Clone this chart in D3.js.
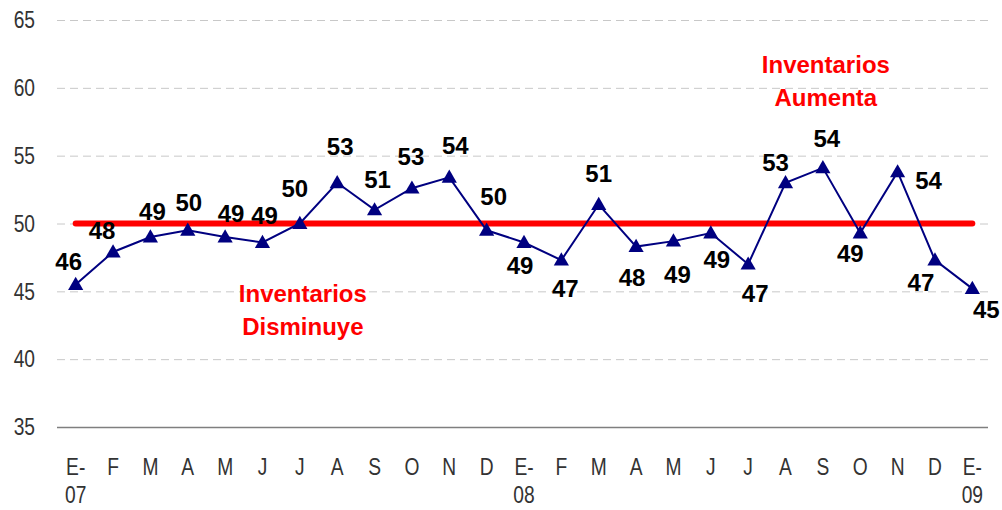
<!DOCTYPE html>
<html>
<head>
<meta charset="utf-8">
<script src="https://cdn.jsdelivr.net/npm/d3@7"></script>
<style>
  body { margin: 0; background: #fff; }
  svg { display: block; }
  .tick-label { font-family: "Liberation Sans", Arial, sans-serif; font-size: 24px; fill: #333; }
  .value-label { font-family: "Liberation Sans", Arial, sans-serif; font-weight: bold; font-size: 24px; fill: #000; }
  .note { font-family: "Liberation Sans", Arial, sans-serif; font-weight: bold; font-size: 24px; fill: #ff0000; }
</style>
</head>
<body>
<div id="chart"></div>
<script>
// months, Jan 2007 - Jan 2009
const months = ["E-07", "F", "M", "A", "M", "J", "J", "A", "S", "O", "N", "D",
                "E-08", "F", "M", "A", "M", "J", "J", "A", "S", "O", "N", "D", "E-09"];

// index values
const values = [45.5, 47.9, 49.0, 49.5, 49.0, 48.6, 50.0, 53.0, 51.0, 52.6, 53.4, 49.5,
                48.6, 47.3, 51.4, 48.3, 48.7, 49.3, 47.0, 53.0, 54.1, 49.3, 53.8, 47.3, 45.2];

// printed labels (rounded)
const valueLabels = ["46", "48", "49", "50", "49", "49", "50", "53", "51", "53", "54", "50",
                     "49", "47", "51", "48", "49", "49", "47", "53", "54", "49", "54", "47", "45"];

const yTicks = [35, 40, 45, 50, 55, 60, 65];
const threshold = 50;
const notes = [
    { lines: ["Inventarios", "Aumenta"], month: 20, value: 61.1 },
    { lines: ["Inventarios", "Disminuye"], month: 6, value: 44.2 }
];

// where each value label sits relative to its marker (dx, dy)
const labelOffsets = [
    [-7, -23], [-11, -21], [2, -26], [1, -28], [6, -24], [2, -27], [-5, -35], [3, -36],
    [3, -30], [-1, -32], [6, -32], [7, -34], [-4, 23], [4, 28], [0, -31], [-4, 31],
    [4, 33], [6, 27], [7, 29], [-10, -20], [4, -29], [-10, 21], [31, 9], [-14, 22], [14, 21]
];

const width = 1002, height = 510;
const margin = { left: 57, right: 11, top: 20, bottom: 83 };
const narrow = 0.8; // axis labels use a condensed look

const svg = d3.select("#chart")
    .append("svg")
    .attr("width", width)
    .attr("height", height);

const x = d3.scaleBand()
    .domain(d3.range(months.length))
    .range([margin.left, width - margin.right])
    .padding(0);

const y = d3.scaleLinear()
    .domain([35, 65])
    .range([height - margin.bottom, margin.top]);

const cx = i => x(i) + x.bandwidth() / 2;

// gridlines
const grid = svg.append("g")
    .attr("transform", `translate(${margin.left},0)`)
    .call(d3.axisLeft(y).tickValues(yTicks).tickSize(-(width - margin.left - margin.right - 3)).tickFormat(""));
grid.select(".domain").remove();
grid.selectAll(".tick line")
    .attr("stroke", d => d === 35 ? "#7f7f7f" : "#c8c8c8")
    .attr("stroke-width", d => d === 35 ? 1.5 : 1)
    .attr("stroke-dasharray", d => d === 35 ? null : "8,5");

// y axis labels
const yAxis = svg.append("g")
    .attr("transform", `translate(${margin.left},0)`)
    .call(d3.axisLeft(y).tickValues(yTicks).tickSize(0).tickPadding(22));
yAxis.select(".domain").remove();
yAxis.selectAll("text")
    .attr("class", "tick-label")
    .attr("font-size", null)
    .attr("font-family", null)
    .attr("x", -22 / narrow)
    .attr("transform", `scale(${narrow},1)`);

// x axis labels, split across two lines
const xAxis = svg.append("g")
    .attr("transform", `translate(0,${height - margin.bottom})`)
    .call(d3.axisBottom(x).tickSize(0).tickFormat(""));
xAxis.select(".domain").remove();
xAxis.selectAll(".tick").each(function(i) {
    const parts = months[i].split("-");
    const t = d3.select(this).append("text")
        .attr("class", "tick-label")
        .attr("text-anchor", "middle")
        .attr("transform", `scale(${narrow},1)`);
    t.append("tspan").attr("x", 0).attr("y", 48).text(parts.length > 1 ? parts[0] + "-" : parts[0]);
    if (parts.length > 1) t.append("tspan").attr("x", 0).attr("y", 76).text(parts[1]);
});

// threshold line
svg.append("line")
    .attr("x1", cx(0))
    .attr("x2", cx(months.length - 1))
    .attr("y1", y(threshold))
    .attr("y2", y(threshold))
    .attr("stroke", "#ff0000")
    .attr("stroke-width", 6)
    .attr("stroke-linecap", "round");

// series line
const line = d3.line()
    .x((d, i) => cx(i))
    .y(d => y(d));

svg.append("path")
    .datum(values)
    .attr("fill", "none")
    .attr("stroke", "#000080")
    .attr("stroke-width", 2)
    .attr("d", line);

// triangle markers
svg.append("g")
    .selectAll("path")
    .data(values)
    .enter()
    .append("path")
    .attr("transform", (d, i) => `translate(${cx(i)},${y(d) + 1})`)
    .attr("d", d3.symbol(d3.symbolTriangle, 100))
    .attr("fill", "#000080");

// value labels
svg.append("g")
    .selectAll("text")
    .data(values)
    .enter()
    .append("text")
    .attr("class", "value-label")
    .attr("text-anchor", "middle")
    .attr("dominant-baseline", "central")
    .attr("x", (d, i) => cx(i) + labelOffsets[i][0])
    .attr("y", (d, i) => y(d) + labelOffsets[i][1])
    .text((d, i) => valueLabels[i]);

// red notes
notes.forEach(n => {
    const t = svg.append("text")
        .attr("class", "note")
        .attr("text-anchor", "middle")
        .attr("x", cx(n.month) + 3)
        .attr("y", y(n.value));
    n.lines.forEach((l, k) => {
        t.append("tspan")
            .attr("x", cx(n.month) + 3)
            .attr("dy", k === 0 ? 0 : 33)
            .text(l);
    });
});
</script>
</body>
</html>
